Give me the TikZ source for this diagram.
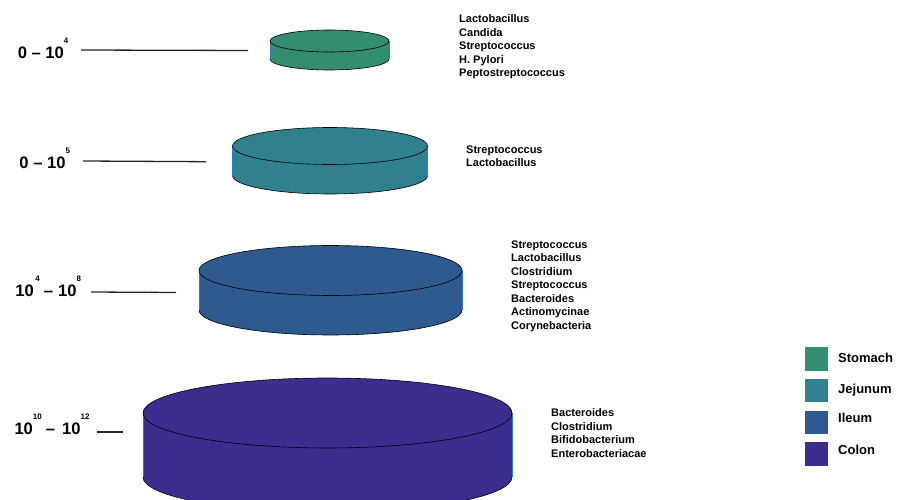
\documentclass[tikz,border=0pt]{standalone}
\usepackage{fontspec}
\setmainfont{Liberation Sans}
\definecolor{cstom}{HTML}{358D70}
\definecolor{cjeju}{HTML}{31808E}
\definecolor{cileu}{HTML}{2F5A8F}
\definecolor{ccolo}{HTML}{3B2E8F}
\definecolor{edgeblue}{HTML}{2A7FD0}
\newcommand{\myexp}[1]{\raisebox{15pt}{\fontsize{8}{8}\selectfont #1}}
\newcommand{\drawcyl}[6]{%
  \fill[#6] (#1-#3,#2) -- (#1-#3,#2+#5) arc[start angle=180,end angle=360,x radius=#3pt,y radius=#4pt] -- (#1+#3,#2) -- cycle;
  \draw[edgeblue,line width=0.6pt] (#1-#3,#2) -- (#1-#3,#2+#5) (#1+#3,#2) -- (#1+#3,#2+#5);
  \draw[black,line width=0.6pt] (#1-#3,#2+#5) arc[start angle=180,end angle=360,x radius=#3pt,y radius=#4pt];
  \filldraw[fill=#6,draw=black,line width=0.6pt] (#1,#2) ellipse[x radius=#3pt,y radius=#4pt];
}
\tikzset{
  rangelab/.style={anchor=base west,inner sep=0pt,font=\fontsize{16.6}{16.6}\selectfont\bfseries},
  taxa/.style={anchor=north west,inner sep=0pt,align=left,font=\fontsize{11}{13.5}\selectfont\bfseries},
  leglab/.style={anchor=base west,inner sep=0pt,font=\fontsize{13}{13}\selectfont\bfseries},
  legbox/.style={fill=#1,draw=none},
  tick/.style={line width=1.3pt,draw=black!85}
}
\begin{document}
\begin{tikzpicture}[x=1pt,y=-1pt]
\useasboundingbox (0,0) rectangle (898,500);
\clip (0,0) rectangle (898,500);
% cylinders
\drawcyl{327.5}{413}{184.5}{35}{64}{ccolo}
\drawcyl{330.5}{270.5}{131.5}{25}{39.5}{cileu}
\drawcyl{330}{146}{97.5}{18.5}{29.5}{cjeju}
\drawcyl{329.5}{41}{59.5}{11}{18}{cstom}
% range labels
\node[rangelab] (r1) at (17.6,59) {0 -- 10\myexp{4}};
\node[rangelab] (r2) at (19.3,168.3) {0 -- 10\myexp{5}};
\node[rangelab] (r3) at (15.3,296.7) {10\hspace{1.5pt}\myexp{4}\hspace{4pt}--\hspace{5pt}10\myexp{8}};
\node[rangelab] (r4) at (14.3,434.3) {10\myexp{10}\hspace{4pt}--\hspace{7pt}10\myexp{12}};
% ticks
\coordinate (a1) at (81,50); \coordinate (b1) at (248,50.5);
\coordinate (a2) at (83,161); \coordinate (b2) at (206,161.7);
\coordinate (a3) at (91,292); \coordinate (b3) at (176,292.5);
\coordinate (a4) at (97,432); \coordinate (b4) at (123,432);
\draw[tick] (a1) -- (b1);
\draw[tick] (a2) -- (b2);
\draw[tick] (a3) -- (b3);
\draw[tick] (a4) -- (b4);
% taxa lists
\node[taxa] (t1) at (459,14.5) {Lactobacillus\\Candida\\Streptococcus\\H. Pylori\\Peptostreptococcus};
\node[taxa] (t2) at (466,145.5) {Streptococcus\\Lactobacillus};
\node[taxa] (t3) at (511,240.5) {Streptococcus\\Lactobacillus\\Clostridium\\Streptococcus\\Bacteroides\\Actinomycinae\\Corynebacteria};
\node[taxa] (t4) at (551,408.5) {Bacteroides\\Clostridium\\Bifidobacterium\\Enterobacteriacae};
% legend
\fill[legbox=cstom] (805,347) rectangle (828,371);
\fill[legbox=cjeju] (805,379) rectangle (828,402);
\fill[legbox=cileu] (805,411) rectangle (828,434);
\fill[legbox=ccolo] (805,442) rectangle (828,466);
\node[leglab] (l1) at (838,362.7) {Stomach};
\node[leglab] (l2) at (838,393.3) {Jejunum};
\node[leglab] (l3) at (838,422.7) {Ileum};
\node[leglab] (l4) at (838,454) {Colon};
\end{tikzpicture}
\end{document}
